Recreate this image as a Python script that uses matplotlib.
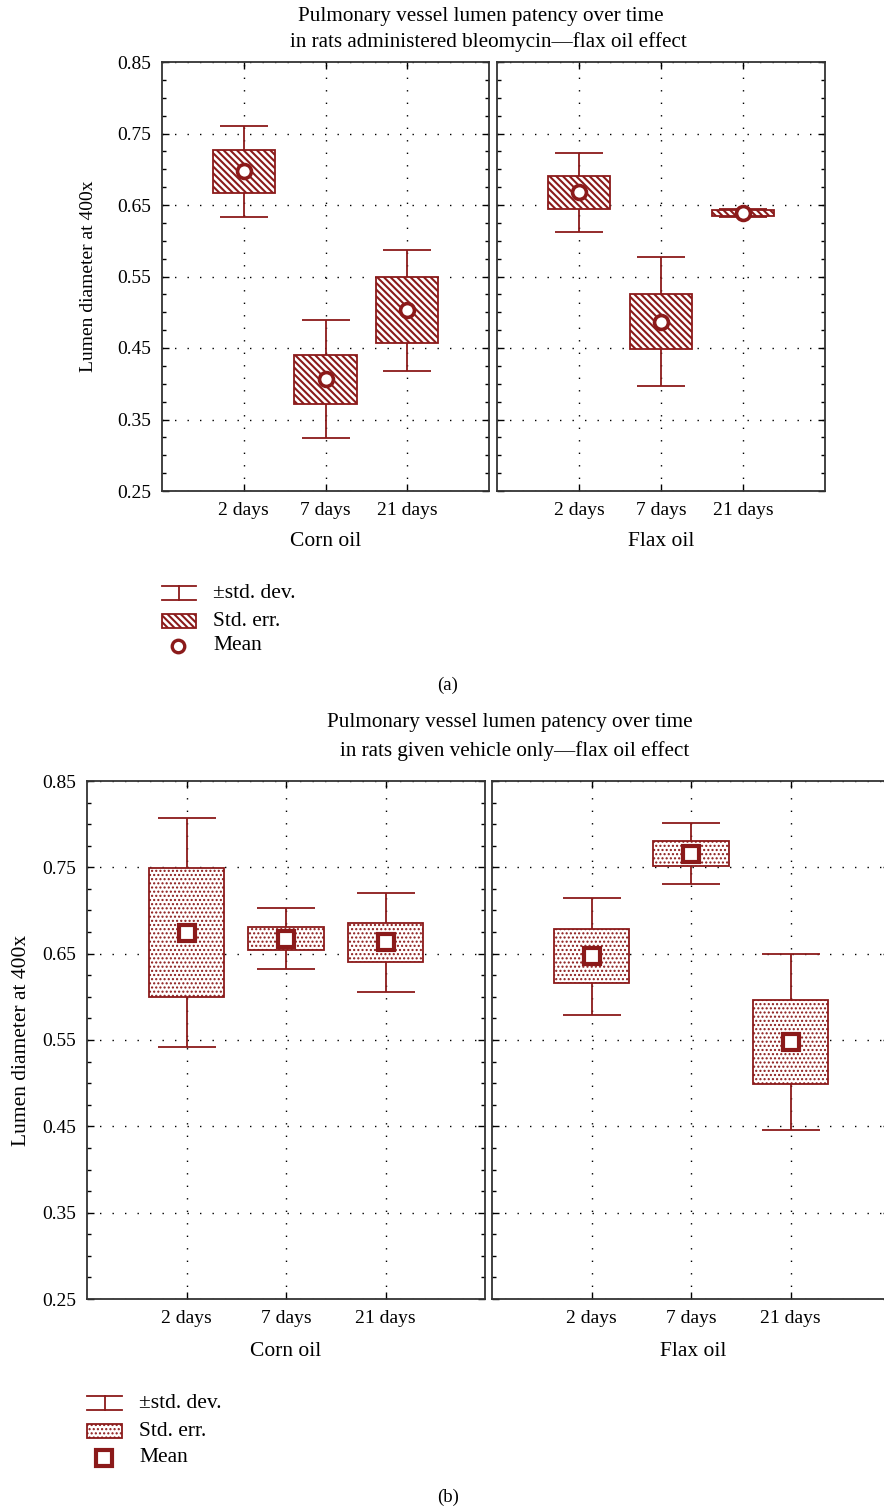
import numpy as np
import matplotlib
matplotlib.use('Agg')
from matplotlib import pyplot as plt
from matplotlib.patches import Rectangle
from matplotlib.ticker import MultipleLocator

plt.rcParams['font.family'] = ['Liberation Serif', 'DejaVu Serif']

red = '#8b1a1a'

days = ['2 days', '7 days', '21 days']
groups = ['Corn oil', 'Flax oil']

# (a) bleomycin: mean, std. err., std. dev.
bleo_corn_mean = [0.697, 0.406, 0.503]
bleo_corn_se = [0.030, 0.0345, 0.046]
bleo_corn_sd = [0.064, 0.0825, 0.0845]
bleo_flax_mean = [0.6675, 0.487, 0.639]
bleo_flax_se = [0.0225, 0.038, 0.004]
bleo_flax_sd = [0.055, 0.0905, 0.006]

# (b) vehicle only
veh_corn_mean = [0.6745, 0.6675, 0.663]
veh_corn_se = [0.0745, 0.0135, 0.023]
veh_corn_sd = [0.133, 0.0355, 0.0575]
veh_flax_mean = [0.647, 0.766, 0.5475]
veh_flax_se = [0.031, 0.015, 0.0485]
veh_flax_sd = [0.068, 0.0355, 0.102]

W, H = 884, 1511
fig = plt.figure(figsize=(W / 100, H / 100), dpi=100)

stripes = '\\\\\\\\\\'
stripe_lw = 1.5
dots = '....'
dot_lw = 1.0


def pax(x0, x1, y0, y1):
    # axes from pixel box
    return fig.add_axes([x0 / W, 1 - y1 / H, (x1 - x0) / W, (y1 - y0) / H])


def draw_panel(ax, mean, se, sd, hatch, marker, ms, mew, capsize, show_y):
    x = np.arange(1, len(mean) + 1)
    mean = np.array(mean)
    se = np.array(se)
    sd = np.array(sd)
    ax.errorbar(x, mean, yerr=sd, fmt='none', ecolor=red, elinewidth=1.3,
                capsize=capsize, capthick=1.3, zorder=2)
    ax.bar(x, 2 * se, bottom=mean - se, width=0.76, facecolor='white',
           edgecolor=red, hatch=hatch, linewidth=1.3, zorder=3)
    ax.plot(x, mean, linestyle='none', marker=marker, ms=ms, mfc='white',
            mec=red, mew=mew, zorder=4)
    ax.set_xlim(0, 4)
    ax.set_ylim(0.25, 0.85)
    ax.set_xticks(x)
    ax.set_xticklabels(days)
    ax.set_yticks(np.arange(0.25, 0.851, 0.1))
    ax.yaxis.set_minor_locator(MultipleLocator(0.025))
    ax.tick_params(direction='in', top=True, right=True, length=5,
                   labelsize=14, pad=8, width=1)
    ax.tick_params(which='minor', direction='in', right=True, left=True,
                   length=3, width=1)
    if show_y:
        ax.set_yticklabels(['%.2f' % v for v in np.arange(0.25, 0.851, 0.1)])
    else:
        ax.set_yticklabels([])
    ax.grid(True, color='black', linestyle=(0, (1, 8)), linewidth=1)
    for s in ax.spines.values():
        s.set_color('#333333')
        s.set_linewidth(1.3)


# panel (a)
plt.rcParams['hatch.linewidth'] = stripe_lw
a1 = pax(162, 489, 62, 491)
draw_panel(a1, bleo_corn_mean, bleo_corn_se, bleo_corn_sd, stripes, 'o', 10, 2.6, 17.5, True)
a1.set_ylabel('Lumen diameter at 400x', fontsize=14, labelpad=14)
a2 = pax(497, 825, 62, 491)
draw_panel(a2, bleo_flax_mean, bleo_flax_se, bleo_flax_sd, stripes, 'o', 10, 2.6, 17.5, False)

# panel (b)
plt.rcParams['hatch.linewidth'] = dot_lw
b1 = pax(87, 485, 781, 1299)
draw_panel(b1, veh_corn_mean, veh_corn_se, veh_corn_sd, dots, 's', 12, 3, 21, True)
b1.set_ylabel('Lumen diameter at 400x', fontsize=15.5, labelpad=8)
b2 = pax(492, 890, 781, 1299)
draw_panel(b2, veh_flax_mean, veh_flax_se, veh_flax_sd, dots, 's', 12, 3, 21, False)

# overlay in pixel coordinates for titles, group labels and legends
ov = fig.add_axes([0, 0, 1, 1], zorder=-1)
ov.set_xlim(0, W)
ov.set_ylim(H, 0)
ov.axis('off')

fs = 15.2
ov.text(481, 17, 'Pulmonary vessel lumen patency over time', ha='center', va='center', fontsize=fs)
ov.text(488, 42, 'in rats administered bleomycin\u2014flax oil effect', ha='center', va='center', fontsize=fs)
ov.text(510, 722, 'Pulmonary vessel lumen patency over time', ha='center', va='center', fontsize=fs)
ov.text(515, 751, 'in rats given vehicle only\u2014flax oil effect', ha='center', va='center', fontsize=fs)

ov.text(326, 542, groups[0], ha='center', va='center', fontsize=15.5)
ov.text(661, 542, groups[1], ha='center', va='center', fontsize=15.5)
ov.text(286, 1351, groups[0], ha='center', va='center', fontsize=15.5)
ov.text(693, 1351, groups[1], ha='center', va='center', fontsize=15.5)

ov.text(448, 685, '(a)', ha='center', va='center', fontsize=13.5)
ov.text(448, 1497, '(b)', ha='center', va='center', fontsize=13.5)


def legend(x0, x1, ys, hatch, hlw, marker, ms, mew):
    xm = (x0 + x1) / 2
    ov.plot([x0, x1], [ys[0] - 7, ys[0] - 7], color=red, lw=1.3)
    ov.plot([x0, x1], [ys[0] + 7, ys[0] + 7], color=red, lw=1.3)
    ov.plot([xm, xm], [ys[0] - 7, ys[0] + 7], color=red, lw=1.3)
    plt.rcParams['hatch.linewidth'] = hlw
    ov.add_patch(Rectangle((x0, ys[1] - 7), x1 - x0, 14, facecolor='white',
                           edgecolor=red, hatch=hatch, lw=1.3))
    ov.plot([xm - 1], [ys[2]], marker=marker, ms=ms, mfc='white', mec=red, mew=mew)
    tx = x1 + 17
    ov.text(tx, ys[0], '\u00b1std. dev.', va='center', fontsize=15.5)
    ov.text(tx, ys[1], 'Std. err.', va='center', fontsize=15.5)
    ov.text(tx, ys[2], 'Mean', va='center', fontsize=15.5)


legend(162, 196, [593, 621, 646], stripes, stripe_lw, 'o', 9, 2.4)
legend(87, 122, [1403, 1431, 1458], dots, dot_lw, 's', 11, 3)

fig.savefig('out.png', dpi=100)
